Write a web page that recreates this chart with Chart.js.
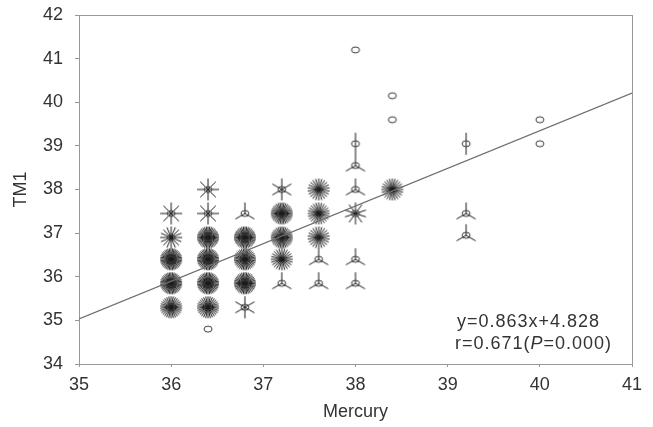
<!DOCTYPE html>
<html>
<head>
<meta charset="utf-8">
<script src="https://cdn.jsdelivr.net/npm/chart.js@4.4.1/dist/chart.umd.min.js"></script>
<style>
  html, body { margin: 0; padding: 0; background: #fff; }
  #wrap { width: 653px; height: 427px; }
</style>
</head>
<body>
<div id="wrap"><canvas id="chart" width="653" height="427"></canvas></div>
<script>
// sunflower plot: each mark is one (Mercury, TM1) cell, petals = number of cases
const mercury = [
    36, 36, 36, 36, 36,
    36.4, 36.4, 36.4, 36.4, 36.4, 36.4, 36.4,
    36.8, 36.8, 36.8, 36.8, 36.8,
    37.2, 37.2, 37.2, 37.2, 37.2,
    37.6, 37.6, 37.6, 37.6, 37.6,
    38, 38, 38, 38, 38, 38, 38,
    38.4, 38.4, 38.4,
    39.2, 39.2, 39.2,
    40, 40
];
const tm1 = [
    37.45, 36.9, 36.4, 35.85, 35.3,
    38.0, 37.45, 36.9, 36.4, 35.85, 35.3, 34.8,
    37.45, 36.9, 36.4, 35.85, 35.3,
    38.0, 37.45, 36.9, 36.4, 35.85,
    38.0, 37.45, 36.9, 36.4, 35.85,
    41.2, 39.05, 38.55, 38.0, 37.45, 36.4, 35.85,
    40.15, 39.6, 38.0,
    39.05, 37.45, 36.95,
    39.6, 39.05
];
const counts = [
    8, 16, 40, 40, 30,
    8, 8, 38, 40, 40, 30, 1,
    3, 38, 36, 38, 6,
    6, 34, 34, 24, 3,
    22, 24, 22, 3, 3,
    1, 2, 3, 3, 10, 3, 3,
    1, 1, 24,
    2, 3, 3,
    1, 1
];

const xTicks = [35, 36, 37, 38, 39, 40, 41];
const yTicks = [34, 35, 36, 37, 38, 39, 40, 41, 42];

const slope = 0.863;
const intercept = 4.828;
const eqLine = "y=0.863x+4.828";
const rLine = ["r=0.671(", "P", "=0.000)"];

const FONT = "'Liberation Sans', Arial, sans-serif";
const AXIS = "#999";
const TEXT = "#333";

function makeFlower(n) {
    const c = document.createElement("canvas");
    c.width = 30;
    c.height = 30;
    const g = c.getContext("2d");
    g.strokeStyle = "#1a1a1a";
    g.lineWidth = 1;
    if (n > 1) {
        for (let k = 0; k < n; k++) {
            const a = -Math.PI / 2 + k * 2 * Math.PI / n;
            g.beginPath();
            g.moveTo(15, 15);
            g.lineTo(15 + 11 * Math.cos(a), 15 + 11 * Math.sin(a));
            g.stroke();
        }
    }
    g.strokeStyle = "#3a3a3a";
    g.beginPath();
    g.ellipse(15, 15, 4, 3, 0, 0, 2 * Math.PI);
    g.stroke();
    return c;
}

const points = mercury.map((x, i) => ({ x: x, y: tm1[i] }));
const flowers = counts.map(makeFlower);

const fitLine = [35, 41].map(x => ({ x: x, y: slope * x + intercept }));

// box around plot area + the equation text
const extras = {
    id: "extras",
    beforeDatasetsDraw(chart) {
        const { ctx, chartArea: a } = chart;
        ctx.save();
        ctx.strokeStyle = AXIS;
        ctx.lineWidth = 1;
        ctx.strokeRect(Math.round(a.left) + 0.5, Math.round(a.top) + 0.5,
            Math.round(a.right - a.left), Math.round(a.bottom - a.top));
        ctx.restore();
    },
    afterDatasetsDraw(chart) {
        const { ctx } = chart;
        ctx.save();
        ctx.fillStyle = TEXT;
        ctx.textBaseline = "middle";
        ctx.letterSpacing = "1px";
        ctx.font = "18px " + FONT;
        ctx.fillText(eqLine, 457, 322);
        let x = 455;
        rLine.forEach((s, i) => {
            ctx.font = (i === 1 ? "italic " : "") + "18px " + FONT;
            ctx.fillText(s, x, 344);
            x += ctx.measureText(s).width;
        });
        ctx.restore();
    }
};

new Chart(document.getElementById("chart"), {
    data: {
        datasets: [
            {
                type: "line",
                data: fitLine,
                borderColor: "#6e6e6e",
                borderWidth: 1.2,
                pointRadius: 0,
                fill: false
            },
            {
                type: "scatter",
                data: points,
                pointStyle: flowers,
                pointRadius: 5
            }
        ]
    },
    options: {
        responsive: false,
        animation: false,
        layout: { padding: { top: 15, right: 21, left: 0, bottom: 0 } },
        plugins: {
            legend: { display: false },
            tooltip: { enabled: false }
        },
        scales: {
            x: {
                type: "linear",
                min: 35,
                max: 41,
                afterFit: s => { s.height = 63; s.paddingLeft = 0; s.paddingRight = 0; },
                afterBuildTicks: s => { s.ticks = xTicks.map(v => ({ value: v })); },
                grid: { drawOnChartArea: false, drawTicks: true, tickLength: 3, color: AXIS },
                border: { display: true, color: AXIS },
                ticks: {
                    padding: 7,
                    color: TEXT,
                    font: { family: FONT, size: 18 }
                },
                title: {
                    display: true,
                    text: "Mercury",
                    color: TEXT,
                    padding: { top: 0, bottom: 4 },
                    font: { family: FONT, size: 18 }
                }
            },
            y: {
                type: "linear",
                min: 34,
                max: 42,
                afterFit: s => { s.width = 79; s.paddingTop = 0; s.paddingBottom = 0; },
                afterBuildTicks: s => { s.ticks = yTicks.map(v => ({ value: v })); },
                grid: { drawOnChartArea: false, drawTicks: true, tickLength: 4, color: AXIS },
                border: { display: true, color: AXIS },
                ticks: {
                    padding: 12,
                    color: TEXT,
                    font: { family: FONT, size: 18 }
                },
                title: {
                    display: true,
                    text: "TM1",
                    color: TEXT,
                    padding: { top: 10, bottom: 0 },
                    font: { family: FONT, size: 18 }
                }
            }
        }
    },
    plugins: [extras]
});
</script>
</body>
</html>
